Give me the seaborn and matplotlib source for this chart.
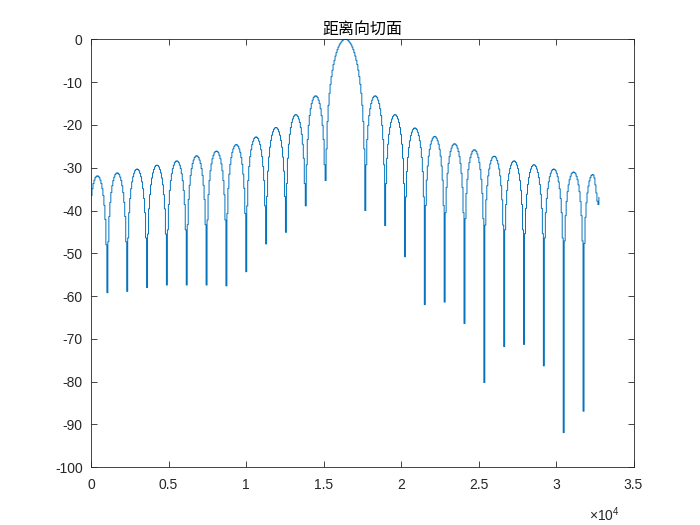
import numpy as np
import matplotlib
matplotlib.use("Agg")
import matplotlib.pyplot as plt
import seaborn as sns

# ---- data (dB level of each 64-sample step) ----
title_text = "距离向切面"
step_width = 64
x_tick_values = [0, 5000, 10000, 15000, 20000, 25000, 30000, 35000]
x_tick_labels = ["0", "0.5", "1", "1.5", "2", "2.5", "3", "3.5"]
y_tick_values = [0, -10, -20, -30, -40, -50, -60, -70, -80, -90, -100]
y_tick_labels = ["0", "-10", "-20", "-30", "-40", "-50", "-60", "-70", "-80", "-90", "-100"]

level_db = [
    # left partial lobe + null
    -36.5, -34.9, -33.7, -32.9, -32.3, -32.0, -31.9, -32.0, -32.3, -32.9, -33.7, -34.9, -36.5, -38.8, -42.1, -48.0, -59.2,
    # left sidelobes (arch + null)
    -47.3, -41.4, -38.1, -35.8, -34.2, -33.0, -32.2, -31.6, -31.3, -31.2, -31.3, -31.6, -32.2, -33.0, -34.2, -35.8, -38.1, -41.4, -47.3, -58.9,
    -46.4, -40.5, -37.2, -34.9, -33.3, -32.1, -31.3, -30.7, -30.4, -30.3, -30.4, -30.7, -31.3, -32.1, -33.3, -34.9, -37.2, -40.5, -46.4, -58.0,
    -45.5, -39.6, -36.3, -34.0, -32.4, -31.2, -30.4, -29.8, -29.5, -29.4, -29.5, -29.8, -30.4, -31.2, -32.4, -34.0, -36.3, -39.6, -45.5, -57.4,
    -44.5, -38.6, -35.3, -33.0, -31.4, -30.2, -29.4, -28.8, -28.5, -28.4, -28.5, -28.8, -29.4, -30.2, -31.4, -33.0, -35.3, -38.6, -44.5, -57.4,
    -43.3, -37.4, -34.1, -31.8, -30.2, -29.0, -28.2, -27.6, -27.3, -27.2, -27.3, -27.6, -28.2, -29.0, -30.2, -31.8, -34.1, -37.4, -43.3, -57.4,
    -42.2, -36.3, -33.0, -30.7, -29.1, -27.9, -27.1, -26.5, -26.2, -26.1, -26.2, -26.5, -27.1, -27.9, -29.1, -30.7, -33.0, -36.3, -42.2, -57.6,
    -40.7, -34.8, -31.5, -29.2, -27.6, -26.4, -25.6, -25.0, -24.7, -24.6, -24.7, -25.0, -25.6, -26.4, -27.6, -29.2, -31.5, -34.8, -40.7, -54.3,
    -38.9, -33.0, -29.7, -27.4, -25.8, -24.6, -23.8, -23.2, -22.9, -22.8, -22.9, -23.2, -23.8, -24.6, -25.8, -27.4, -29.7, -33.0, -38.9, -47.8,
    -36.7, -30.8, -27.5, -25.2, -23.6, -22.4, -21.6, -21.0, -20.7, -20.6, -20.7, -21.0, -21.6, -22.4, -23.6, -25.2, -27.5, -30.8, -36.7, -45.1,
    -33.7, -27.8, -24.5, -22.2, -20.6, -19.4, -18.6, -18.0, -17.7, -17.6, -17.7, -18.0, -18.6, -19.4, -20.6, -22.2, -24.5, -27.8, -33.7, -38.9,
    -29.3, -23.4, -20.1, -17.8, -16.2, -15.0, -14.2, -13.6, -13.3, -13.2, -13.3, -13.6, -14.2, -15.0, -16.2, -17.8, -20.1, -23.4, -29.3, -33.0,
    # main lobe + right null
    -25.6, -19.2, -15.4, -12.6, -10.5, -8.7, -7.2, -5.9, -4.9, -3.9, -3.1, -2.4, -1.8, -1.3, -0.9, -0.6, -0.3, -0.1, 0.0,
    0.0,
    0.0, -0.1, -0.3, -0.6, -0.9, -1.3, -1.8, -2.4, -3.1, -3.9, -4.9, -5.9, -7.2, -8.7, -10.5, -12.6, -15.4, -19.2, -25.6, -40.0,
    # right sidelobes (arch + null)
    -29.3, -23.4, -20.1, -17.8, -16.2, -15.0, -14.2, -13.6, -13.3, -13.2, -13.3, -13.6, -14.2, -15.0, -16.2, -17.8, -20.1, -23.4, -29.3, -43.5,
    -33.7, -27.8, -24.5, -22.2, -20.6, -19.4, -18.6, -18.0, -17.7, -17.6, -17.7, -18.0, -18.6, -19.4, -20.6, -22.2, -24.5, -27.8, -33.7, -50.8,
    -36.8, -30.9, -27.6, -25.3, -23.7, -22.5, -21.7, -21.1, -20.8, -20.7, -20.8, -21.1, -21.7, -22.5, -23.7, -25.3, -27.6, -30.9, -36.8, -62.0,
    -38.8, -32.9, -29.6, -27.3, -25.7, -24.5, -23.7, -23.1, -22.8, -22.7, -22.8, -23.1, -23.7, -24.5, -25.7, -27.3, -29.6, -32.9, -38.8, -61.4,
    -40.5, -34.6, -31.3, -29.0, -27.4, -26.2, -25.4, -24.8, -24.5, -24.4, -24.5, -24.8, -25.4, -26.2, -27.4, -29.0, -31.3, -34.6, -40.5, -66.4,
    -41.9, -36.0, -32.7, -30.4, -28.8, -27.6, -26.8, -26.2, -25.9, -25.8, -25.9, -26.2, -26.8, -27.6, -28.8, -30.4, -32.7, -36.0, -41.9, -80.2,
    -43.4, -37.5, -34.2, -31.9, -30.3, -29.1, -28.3, -27.7, -27.4, -27.3, -27.4, -27.7, -28.3, -29.1, -30.3, -31.9, -34.2, -37.5, -43.4, -71.8,
    -44.5, -38.6, -35.3, -33.0, -31.4, -30.2, -29.4, -28.8, -28.5, -28.4, -28.5, -28.8, -29.4, -30.2, -31.4, -33.0, -35.3, -38.6, -44.5, -71.3,
    -45.4, -39.5, -36.2, -33.9, -32.3, -31.1, -30.3, -29.7, -29.4, -29.3, -29.4, -29.7, -30.3, -31.1, -32.3, -33.9, -36.2, -39.5, -45.4, -76.3,
    -46.4, -40.5, -37.2, -34.9, -33.3, -32.1, -31.3, -30.7, -30.4, -30.3, -30.4, -30.7, -31.3, -32.1, -33.3, -34.9, -37.2, -40.5, -46.4, -91.9,
    -47.1, -41.2, -37.9, -35.6, -34.0, -32.8, -32.0, -31.4, -31.1, -31.0, -31.1, -31.4, -32.0, -32.8, -34.0, -35.6, -37.9, -41.2, -47.1, -86.9,
    # right partial lobe + final edge
    -47.7, -41.6, -38.2, -35.9, -34.3, -33.1, -32.3, -31.8, -31.6, -31.7, -32.4, -34.0, -35.9, -37.8, -38.6,
    -36.9,
]
assert len(level_db) == 513, len(level_db)

sample_pos = np.arange(len(level_db)) * step_width

# ---- style ----
sns.set_theme(style="white")
plt.rcParams["font.family"] = ["Liberation Sans", "Noto Sans CJK SC", "DejaVu Sans"]
plt.rcParams["axes.unicode_minus"] = False
plt.rcParams["mathtext.fontset"] = "custom"
plt.rcParams["mathtext.rm"] = "Liberation Sans"
plt.rcParams["mathtext.it"] = "Liberation Sans"

axis_gray = "#262626"

fig = plt.figure(figsize=(7, 5.25), dpi=100, facecolor="white")
ax = fig.add_axes([0.13, 0.11, 0.775, 0.815])
ax.set_facecolor("white")

sns.lineplot(x=sample_pos, y=level_db, ax=ax, color="#0072BD", linewidth=0.7,
             drawstyle="steps-post", estimator=None, sort=False, legend=False)

ax.set_xlim(0, 35000)
ax.set_ylim(-100, 0)
ax.set_xticks(x_tick_values)
ax.set_xticklabels(x_tick_labels)
ax.set_yticks(y_tick_values)
ax.set_yticklabels(y_tick_labels)
ax.set_xlabel("")
ax.set_ylabel("")

for sp in ax.spines.values():
    sp.set_visible(True)
    sp.set_color(axis_gray)
    sp.set_linewidth(0.6)

ax.tick_params(axis="both", which="both", direction="in", length=4, width=0.6,
               colors=axis_gray, labelsize=10, top=True, right=True,
               bottom=True, left=True)
ax.tick_params(axis="x", pad=7.5)
ax.tick_params(axis="y", pad=6)

ax.set_title(title_text, fontsize=11.5, color="#000000", pad=4,
             family=["Noto Sans CJK SC", "DejaVu Sans"])

ax.text(0.975, -0.088, r"$\times10^{4}$", transform=ax.transAxes,
        ha="right", va="top", fontsize=10, color=axis_gray)

fig.savefig("out.png", dpi=100, facecolor="white")
